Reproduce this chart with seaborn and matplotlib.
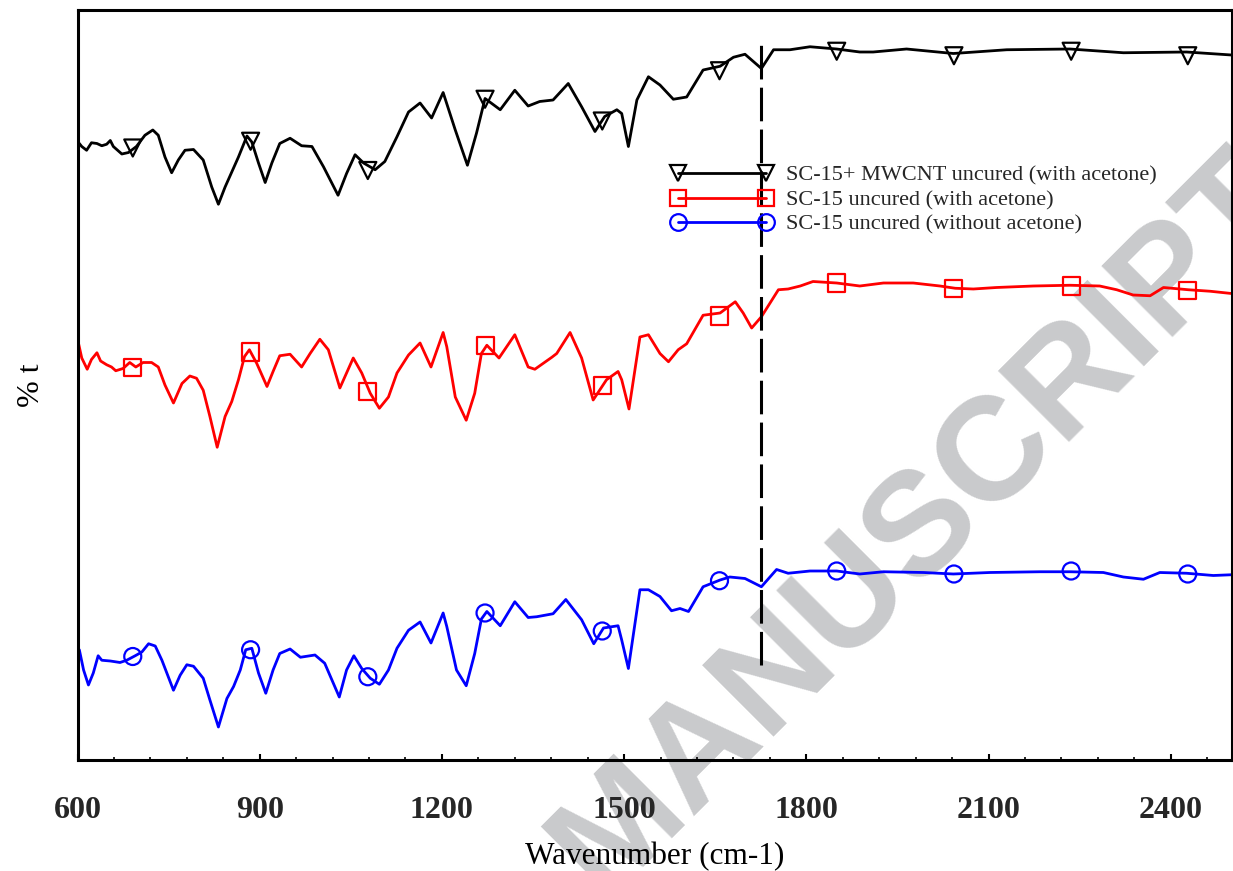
import matplotlib
matplotlib.use("Agg")
import matplotlib.pyplot as plt
from matplotlib.lines import Line2D
from matplotlib.ticker import MultipleLocator
import seaborn as sns
import pandas as pd

# ---------------- data ----------------
black_wn = [601, 607, 615, 623, 632, 640, 648, 654, 659, 673, 684, 697, 711, 724, 733, 744, 755, 766, 777, 791,
            807, 821, 832, 843, 854, 865, 879, 887, 898, 909, 920, 933, 950, 969, 986, 1005, 1029, 1043, 1057, 1071,
            1090, 1106, 1126, 1145, 1164, 1183, 1202, 1222, 1242, 1257, 1271, 1296, 1320, 1342, 1361, 1383, 1408, 1430, 1452, 1468,
            1488, 1496, 1507, 1521, 1540, 1559, 1581, 1603, 1630, 1658, 1680, 1699, 1726, 1746, 1773, 1806, 1850, 1888, 1910, 1965,
            2042, 2130, 2234, 2322, 2426, 2500]
black_t = [82.4, 81.8, 81.3, 82.3, 82.2, 81.9, 82.1, 82.6, 81.8, 80.8, 81.0, 81.8, 83.3, 84.0, 83.3, 80.4, 78.3, 80.0, 81.3, 81.4,
           80.0, 76.4, 74.1, 76.4, 78.4, 80.4, 83.2, 82.4, 79.6, 77.0, 79.6, 82.2, 82.9, 81.9, 81.8, 79.1, 75.3, 78.2, 80.7, 79.6,
           78.7, 79.8, 83.1, 86.4, 87.6, 85.6, 89.0, 84.0, 79.3, 83.6, 88.2, 86.7, 89.3, 87.2, 87.8, 88.0, 90.2, 87.1, 83.8, 85.8,
           86.7, 86.2, 81.8, 88.0, 91.1, 90.0, 88.1, 88.4, 92.0, 92.5, 93.7, 94.1, 92.2, 94.7, 94.7, 95.1, 94.8, 94.4, 94.4, 94.8,
           94.2, 94.7, 94.8, 94.3, 94.4, 94.0]

red_wn = [601, 607, 616, 623, 632, 638, 648, 656, 663, 675, 686, 696, 708, 722, 733, 744, 758, 772, 785, 796,
          807, 818, 830, 843, 854, 865, 875, 883, 895, 912, 922, 933, 950, 969, 983, 999, 1013, 1032, 1043, 1054,
          1068, 1082, 1097, 1112, 1126, 1145, 1164, 1182, 1202, 1208, 1222, 1240, 1254, 1265, 1274, 1294, 1320, 1342, 1353, 1381,
          1389, 1411, 1430, 1449, 1471, 1490, 1496, 1508, 1526, 1540, 1559, 1573, 1589, 1603, 1630, 1658, 1683, 1696, 1710, 1726,
          1740, 1754, 1770, 1790, 1811, 1850, 1888, 1927, 1976, 2020, 2045, 2075, 2113, 2174, 2234, 2283, 2311, 2338, 2366, 2388,
          2429, 2465, 2500]
red_t = [55.8, 53.6, 52.1, 53.4, 54.3, 53.2, 52.7, 52.4, 51.9, 52.2, 53.0, 52.4, 53.0, 53.0, 52.4, 50.0, 47.6, 50.2, 51.2, 50.9,
         49.3, 45.8, 41.7, 45.8, 47.8, 50.7, 53.8, 54.7, 52.9, 49.8, 51.8, 53.9, 54.1, 52.4, 54.2, 56.1, 54.7, 49.6, 51.6, 53.6,
         51.6, 48.9, 46.9, 48.4, 51.6, 54.0, 55.6, 52.4, 57.0, 55.1, 48.4, 45.3, 48.9, 54.2, 55.3, 53.6, 56.7, 52.4, 52.1, 53.7,
         54.2, 57.0, 53.6, 48.0, 50.7, 51.8, 50.7, 46.8, 56.4, 56.7, 54.2, 53.1, 54.7, 55.5, 59.3, 59.6, 61.1, 59.6, 57.6, 59.1,
         60.9, 62.7, 62.8, 63.2, 63.8, 63.6, 63.2, 63.6, 63.6, 63.2, 62.9, 62.8, 63.0, 63.2, 63.3, 63.2, 62.7, 62.0, 61.9, 63.0,
         62.7, 62.5, 62.2]

blue_wn = [603, 610, 618, 626, 634, 640, 654, 670, 681, 695, 706, 717, 728, 739, 758, 769, 780, 791, 807, 818,
           832, 846, 857, 868, 877, 887, 898, 910, 922, 933, 950, 967, 991, 1007, 1031, 1043, 1055, 1068, 1082, 1097,
           1112, 1126, 1145, 1164, 1182, 1202, 1208, 1224, 1240, 1254, 1265, 1274, 1296, 1320, 1342, 1356, 1383, 1404, 1430, 1450,
           1466, 1490, 1496, 1507, 1526, 1540, 1559, 1578, 1592, 1606, 1630, 1658, 1674, 1699, 1726, 1751, 1770, 1806, 1850, 1888,
           1927, 1993, 2042, 2102, 2185, 2234, 2289, 2322, 2355, 2382, 2426, 2470, 2500]
blue_t = [14.7, 12.0, 10.0, 11.6, 13.9, 13.3, 13.2, 13.0, 13.3, 13.9, 14.4, 15.5, 15.2, 13.3, 9.3, 11.3, 12.7, 12.5, 10.9, 8.0,
          4.4, 8.2, 9.8, 12.0, 14.7, 14.9, 11.6, 8.9, 12.0, 14.2, 14.8, 13.7, 14.0, 12.9, 8.4, 12.0, 13.9, 12.2, 10.9, 10.1,
          12.0, 14.9, 17.3, 18.4, 15.6, 19.6, 17.8, 12.0, 9.9, 14.2, 18.8, 19.8, 17.9, 21.1, 19.0, 19.1, 19.5, 21.4, 18.7, 15.5,
          17.6, 17.9, 16.0, 12.2, 22.7, 22.7, 21.8, 19.9, 20.2, 19.8, 23.1, 24.0, 24.4, 24.2, 23.1, 25.4, 24.9, 25.2, 25.2, 24.8,
          25.1, 25.0, 24.8, 25.0, 25.1, 25.1, 25.0, 24.4, 24.1, 25.0, 24.9, 24.6, 24.7]

marker_wn = [691, 885, 1078, 1271, 1464, 1657, 1850, 2043, 2236, 2428]
black_mk_t = [81.6, 82.5, 78.6, 88.1, 85.2, 91.9, 94.5, 93.9, 94.5, 93.9]
red_mk_t = [52.3, 54.4, 49.1, 55.3, 49.9, 59.2, 63.6, 62.9, 63.2, 62.6]
blue_mk_t = [13.8, 14.7, 11.1, 19.6, 17.2, 23.9, 25.2, 24.8, 25.2, 24.8]

series_labels = ["SC-15+ MWCNT uncured (with acetone)",
                 "SC-15 uncured (with acetone)",
                 "SC-15 uncured (without acetone)"]
xticks = [600, 900, 1200, 1500, 1800, 2100, 2400]
vline_wn = 1725
vline_t = [12.7, 95.7]
x_label = "Wavenumber (cm-1)"
y_label = "% t"
watermark = "MANUSCRIPT"

# ---------------- style ----------------
sns.set_theme(style="white")
plt.rcParams["font.family"] = ["Liberation Serif", "DejaVu Serif"]

fig = plt.figure(figsize=(12.33, 8.71), dpi=100)
fig.patch.set_facecolor("white")
ax = fig.add_axes([77.5 / 1233, (871 - 760) / 871, 1154 / 1233, 750 / 871])
ax.set_facecolor("none")

# watermark behind everything
fig.text(0.748, 0.398, watermark, fontsize=106, fontweight="bold", family="Liberation Sans",
         color="#c9cacc", rotation=45, rotation_mode="anchor", ha="center", va="center", zorder=-1)

specs = [
    (black_wn, black_t, black_mk_t, "black", "v"),
    (red_wn, red_t, red_mk_t, "#ff0000", "s"),
    (blue_wn, blue_t, blue_mk_t, "#0000ff", "o"),
]
handles = []
for (wn, t, mk, col, m), lab in zip(specs, series_labels):
    df = pd.DataFrame({"wn": wn, "t": t})
    sns.lineplot(data=df, x="wn", y="t", color=col, lw=2.0, ax=ax, sort=False, estimator=None,
                 zorder=2, solid_joinstyle="round", solid_capstyle="round")
    dm = pd.DataFrame({"wn": marker_wn, "t": mk})
    sns.scatterplot(data=dm, x="wn", y="t", marker=m, s=150, color=col, facecolor="none",
                    edgecolor=col, linewidth=1.6, ax=ax, zorder=3)
    handles.append(Line2D([], [], color=col, lw=2.0, marker=m, ms=12, mfc="none", mec=col, mew=1.6))

ax.vlines(vline_wn, vline_t[0], vline_t[1], colors="black", lw=2.2,
          linestyles=(0, (11, 2.7)), zorder=4)

leg = ax.legend(handles, series_labels, loc="upper left", bbox_to_anchor=(0.5148, 0.793),
                frameon=False, fontsize=16, numpoints=2, handlelength=4.56, handletextpad=0.6,
                labelspacing=0.18, borderpad=0, borderaxespad=0)

ax.set_xlim(600, 2500)
ax.set_ylim(0, 100)
ax.set_xticks(xticks)
ax.xaxis.set_minor_locator(MultipleLocator(60))
ax.set_yticks([])
ax.tick_params(axis="x", which="major", direction="in", length=4.2, width=1.5, color="black",
               bottom=True, top=False, labelsize=23, pad=26)
ax.tick_params(axis="x", which="minor", direction="in", length=2.3, width=1.2, color="black",
               bottom=True, top=False)
for lab in ax.get_xticklabels():
    lab.set_fontweight("bold")
for sp in ax.spines.values():
    sp.set_visible(True)
    sp.set_color("black")
    sp.set_linewidth(2.2)

ax.set_xlabel(x_label, fontsize=22.5, labelpad=12, color="black")
ax.set_ylabel(y_label, fontsize=23, labelpad=23, color="black")

fig.savefig("out.png", dpi=100, facecolor="white")
